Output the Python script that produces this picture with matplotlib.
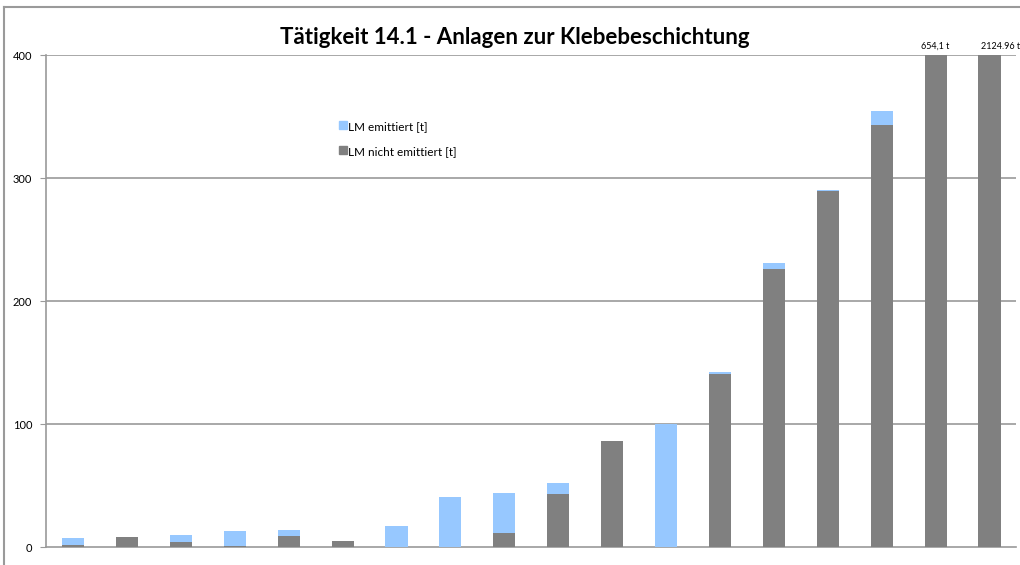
import matplotlib
matplotlib.use("Agg")
import matplotlib.pyplot as plt
from matplotlib.patches import Patch
from matplotlib.lines import Line2D
import numpy as np

plt.rcParams['font.family'] = ['Lato', 'DejaVu Sans']

# values (t)
nicht_emittiert = [1.5, 8.4, 4.0, 1.0, 9.0, 4.9, 0.0, 0.0, 11.0, 43.3,
                   86.4, 0.0, 140.5, 226.0, 289.4, 343.0, 654.1, 2124.96]
emittiert = [5.8, 0.0, 5.8, 12.0, 5.0, 0.0, 17.0, 40.8, 32.5, 9.0,
             0.0, 100.0, 1.8, 5.0, 0.8, 11.5, 0.0, 0.0]
overflow_labels = {16: '654,1 t', 17: '2124.96 t'}
y_ticks = [0, 100, 200, 300, 400]

GRAY = '#808080'
BLUE = '#97C8FF'
LINE = '#9a9a9a'

# 10.205 so the saved png comes out at a full 1020 px wide
fig = plt.figure(figsize=(10.205, 5.655), dpi=100)
ax = fig.add_axes([46 / 1020, 18 / 565, 970 / 1020, 492 / 565])

x = np.arange(len(nicht_emittiert))
ax.bar(x, nicht_emittiert, width=0.41, color=GRAY, zorder=3)
ax.bar(x, emittiert, width=0.41, bottom=nicht_emittiert, color=BLUE, zorder=3)

ax.set_xlim(-0.5, len(x) - 0.5)
ax.set_ylim(0, 400)
ax.set_yticks(y_ticks)
ax.set_xticks([])
ax.tick_params(axis='y', length=4, color=LINE, labelsize=8, pad=6)
for t in y_ticks[1:]:
    ax.axhline(t, color=LINE, lw=1.2, zorder=1)
for side in ['top', 'right']:
    ax.spines[side].set_visible(False)
for side in ['left', 'bottom']:
    ax.spines[side].set_color(LINE)
    ax.spines[side].set_linewidth(1.2)

# labels for bars that run past the axis top
for i, lab in overflow_labels.items():
    dx = 0 if i == 16 else 8
    ax.annotate(lab, (x[i], 400), xytext=(dx, 3), textcoords='offset points',
                ha='center', va='bottom', fontsize=6.5, annotation_clip=False)

fig.text(515 / 1020, 1 - 37 / 565, 'Tätigkeit 14.1 - Anlagen zur Klebebeschichtung',
         fontsize=16, fontweight='bold', ha='center', va='center')

handles = [Patch(color=BLUE, label='LM emittiert [t]'),
           Patch(color=GRAY, label='LM nicht emittiert [t]')]
fig.legend(handles=handles, loc='upper left', bbox_to_anchor=(334 / 1020, 1 - 116 / 565),
           frameon=False, fontsize=8.5, handlelength=0.7, handleheight=0.7,
           handletextpad=0.1, labelspacing=1.2, borderaxespad=0)

# outer chart frame (top and left edges)
fig.add_artist(Line2D([4 / 1020, 4 / 1020], [0, 1 - 7 / 565], color=LINE, lw=1.5,
                      transform=fig.transFigure))
fig.add_artist(Line2D([4 / 1020, 1], [1 - 7 / 565, 1 - 7 / 565], color=LINE, lw=1.5,
                      transform=fig.transFigure))

fig.savefig('out.png', dpi=100)
